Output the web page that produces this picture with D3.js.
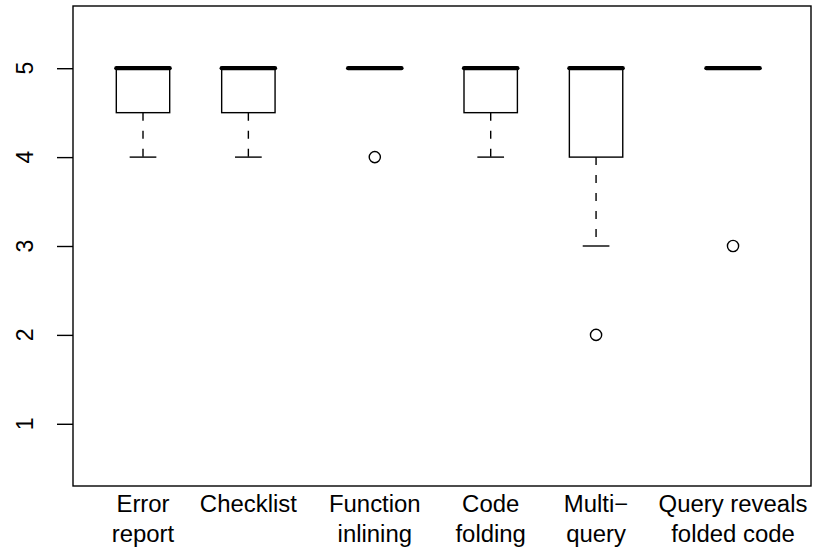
<!DOCTYPE html>
<html>
<head>
<meta charset="utf-8">
<script src="https://cdn.jsdelivr.net/npm/d3@7"></script>
<style>
  html, body { margin: 0; padding: 0; background: #fff; }
  svg { display: block; }
  text { font-family: "Liberation Sans", Arial, Helvetica, sans-serif; fill: #000; }
</style>
</head>
<body>
<svg id="chart" width="814" height="552"></svg>
<script>
// Rating categories (each entry is the label split over lines)
const categories = [
  ["Error", "report"],
  ["Checklist"],
  ["Function", "inlining"],
  ["Code", "folding"],
  ["Multi\u2212", "query"],
  ["Query reveals", "folded code"]
];
// Five-number summaries per category
const lowerWhisker = [4, 4, 5, 4, 3, 5];
const lowerQuartile = [4.5, 4.5, 5, 4.5, 4, 5];
const medians = [5, 5, 5, 5, 5, 5];
const upperQuartile = [5, 5, 5, 5, 5, 5];
const upperWhisker = [5, 5, 5, 5, 5, 5];
const outliers = [[], [], [4], [], [2], [3]];
const yTicks = [1, 2, 3, 4, 5];

// Horizontal slot of each box on the category axis
const slots = [1, 2, 3.2, 4.3, 5.3, 6.6];
const boxHalf = 0.2534;

const svg = d3.select("#chart");
const frame = { left: 73, right: 811, top: 6, bottom: 486 };

const x = d3.scaleLinear().domain([0.3356, 7.340]).range([frame.left, frame.right]);
const y = d3.scaleLinear().domain([0.3, 5.7]).range([frame.bottom, frame.top]);

const lw = 1.4;

// plot frame
svg.append("rect")
  .attr("x", frame.left).attr("y", frame.top)
  .attr("width", frame.right - frame.left).attr("height", frame.bottom - frame.top)
  .attr("fill", "none").attr("stroke", "#000").attr("stroke-width", lw);

// y axis: ticks and rotated labels
const yAxis = svg.append("g").attr("transform", `translate(${frame.left},0)`)
  .call(d3.axisLeft(y).tickValues(yTicks).tickSize(16).tickFormat(""));
yAxis.select(".domain").remove();
yAxis.selectAll(".tick line").attr("stroke", "#000").attr("stroke-width", lw);

svg.append("g").selectAll("text").data(yTicks).join("text")
  .attr("transform", d => `translate(33.3,${y(d)}) rotate(-90)`)
  .attr("text-anchor", "middle")
  .attr("font-size", 23)
  .text(d => d);

// boxes
const stats = categories.map((c, i) => ({
  i, slot: slots[i], lo: lowerWhisker[i], q1: lowerQuartile[i], med: medians[i],
  q3: upperQuartile[i], hi: upperWhisker[i], out: outliers[i]
}));

const g = svg.append("g");
stats.forEach(s => {
  const cx = x(s.slot);
  const hw = x(s.slot + boxHalf) - cx;
  // whiskers (dashed)
  [[s.q1, s.lo], [s.q3, s.hi]].forEach(([a, b]) => {
    if (a !== b) {
      g.append("line").attr("x1", cx).attr("x2", cx).attr("y1", y(a)).attr("y2", y(b))
        .attr("stroke", "#000").attr("stroke-width", lw).attr("stroke-dasharray", "8,10");
    }
  });
  // staples
  [s.lo, s.hi].forEach(v => {
    g.append("line").attr("x1", cx - hw / 2).attr("x2", cx + hw / 2)
      .attr("y1", y(v)).attr("y2", y(v))
      .attr("stroke", "#000").attr("stroke-width", lw);
  });
  // box
  g.append("rect").attr("x", cx - hw).attr("y", y(s.q3))
    .attr("width", 2 * hw).attr("height", y(s.q1) - y(s.q3))
    .attr("fill", "#fff").attr("stroke", "#000").attr("stroke-width", lw);
  // median
  g.append("line").attr("x1", cx - hw).attr("x2", cx + hw)
    .attr("y1", y(s.med)).attr("y2", y(s.med))
    .attr("stroke", "#000").attr("stroke-width", 4.2).attr("stroke-linecap", "round");
  // outliers
  s.out.forEach(v => {
    g.append("circle").attr("cx", cx).attr("cy", y(v)).attr("r", 5.6)
      .attr("fill", "none").attr("stroke", "#000").attr("stroke-width", lw);
  });
});

// category labels
const lab = svg.append("g");
stats.forEach(s => {
  categories[s.i].forEach((line, k) => {
    lab.append("text")
      .attr("transform", `translate(${x(s.slot)},${512 + k * 30}) scale(1.04,1)`)
      .attr("text-anchor", "middle")
      .attr("font-size", 23)
      .text(line);
  });
});
</script>
</body>
</html>
